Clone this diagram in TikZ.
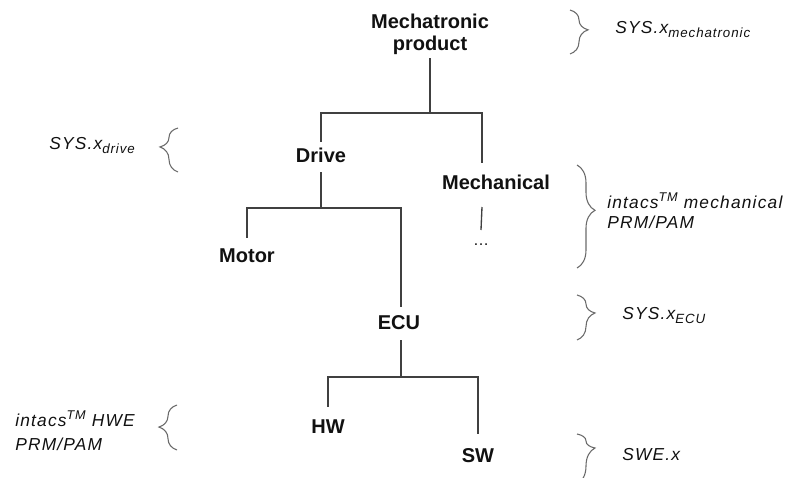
\documentclass[tikz,border=0pt]{standalone}
\usepackage{fontspec}
\setmainfont{Liberation Sans}
\newfontfamily\labfont[LetterSpace=7]{Liberation Sans}
\usetikzlibrary{calc,decorations.pathreplacing}
\newcommand\lsub[1]{\raisebox{-3pt}{\fontsize{10}{10}\selectfont #1}}
\newcommand\lsup[1]{\raisebox{5pt}{\fontsize{9.5}{9.5}\selectfont #1}}
\definecolor{ink}{HTML}{111111}
\definecolor{linec}{HTML}{404040}
\definecolor{bracec}{HTML}{6A6A6A}
\tikzset{
  box/.style={font=\fontsize{15}{16.5}\selectfont\bfseries, inner sep=0pt, text height=10.5pt, text depth=0pt, align=center, text=ink},
  topbox/.style={font=\fontsize{15}{16.5}\selectfont\bfseries, inner sep=0pt, align=center, text=ink, anchor=north},
  lab/.style={font=\labfont\itshape\fontsize{13}{15}\selectfont, inner sep=0pt, anchor=west, align=left, text=ink},
  conn/.style={draw=linec, line width=1pt},
  br/.style={draw=bracec, line width=0.8pt, decorate, decoration={brace, amplitude=13.5pt, aspect=#1}},
}
\begin{document}
\begin{tikzpicture}[x=0.75pt,y=-0.75pt]
\useasboundingbox[fill=white] (0,0) rectangle (797,478);
% tree nodes
\node[topbox] (mp) at (430,14) {Mechatronic\\product};
\node[box] (drive) at (321,155) {Drive};
\node[box] (mech) at (496,183) {Mechanical};
\node[font=\fontsize{12}{12}\selectfont, inner sep=0pt, text=ink] (dots) at (481,245) {\textellipsis};
\node[box] (motor) at (247,255) {Motor};
\node[box] (ecu) at (399,322) {ECU};
\node[box] (hw) at (328,426) {HW};
\node[box] (sw) at (478,455) {SW};
% junctions
\coordinate (j1) at (430,113);
\coordinate (j2) at (321,208);
\coordinate (j3) at (401,377);
\coordinate (mtop) at (482,163);
\coordinate (mbot) at (482,207);
\coordinate (etop) at (401,307);
\coordinate (ebot) at (401,340);
% connectors
\draw[conn] ($(mp.south)+(0,3)$) -- (j1);
\draw[conn] ($(drive.north)+(0,-6)$) |- (j1) -| (mtop);
\draw[conn] ($(drive.south)+(0,10)$) -- (j2);
\draw[conn] ($(motor.north)+(0,-10)$) |- (j2) -| (etop);
\draw[conn] (mbot) -- ($(dots.center)+(0,-15)$);
\draw[conn] (ebot) -- (j3);
\draw[conn] ($(hw.north)+(0,-12)$) |- (j3) -| ($(sw.north)+(0,-14)$);
% labels
\node[lab] (lmp) at (615,30) {SYS.x\lsub{mechatronic}};
\node[lab] (ldrive) at (49,146) {SYS.x\lsub{drive}};
\node[lab] (lmech) at (607,211) {intacs\lsup{TM} mechanical\\PRM/PAM};
\node[lab] (lecu) at (622,316) {SYS.x\lsub{ECU}};
\node[lab, font=\labfont\itshape\fontsize{13}{18}\selectfont] (lhw) at (15,431) {intacs\lsup{TM} HWE\\PRM/PAM};
\node[lab] (lsw) at (622,455) {SWE.x};
% braces
\coordinate (bmp1) at (570,10);  \coordinate (bmp2) at (570,54);
\coordinate (bdr1) at (178,172); \coordinate (bdr2) at (178,128);
\coordinate (bme1) at (577,165); \coordinate (bme2) at (577,268);
\coordinate (bec1) at (577,295); \coordinate (bec2) at (577,340);
\coordinate (bhw1) at (177,450); \coordinate (bhw2) at (177,405);
\coordinate (bsw1) at (577,434); \coordinate (bsw2) at (577,484);
\draw[br=0.45] (bmp1) -- (bmp2);
\draw[br=0.57] (bdr1) -- (bdr2);
\draw[br=0.44] (bme1) -- (bme2);
\draw[br=0.4]  (bec1) -- (bec2);
\draw[br=0.51] (bhw1) -- (bhw2);
\draw[br=0.28] (bsw1) -- (bsw2);
\end{tikzpicture}
\end{document}
